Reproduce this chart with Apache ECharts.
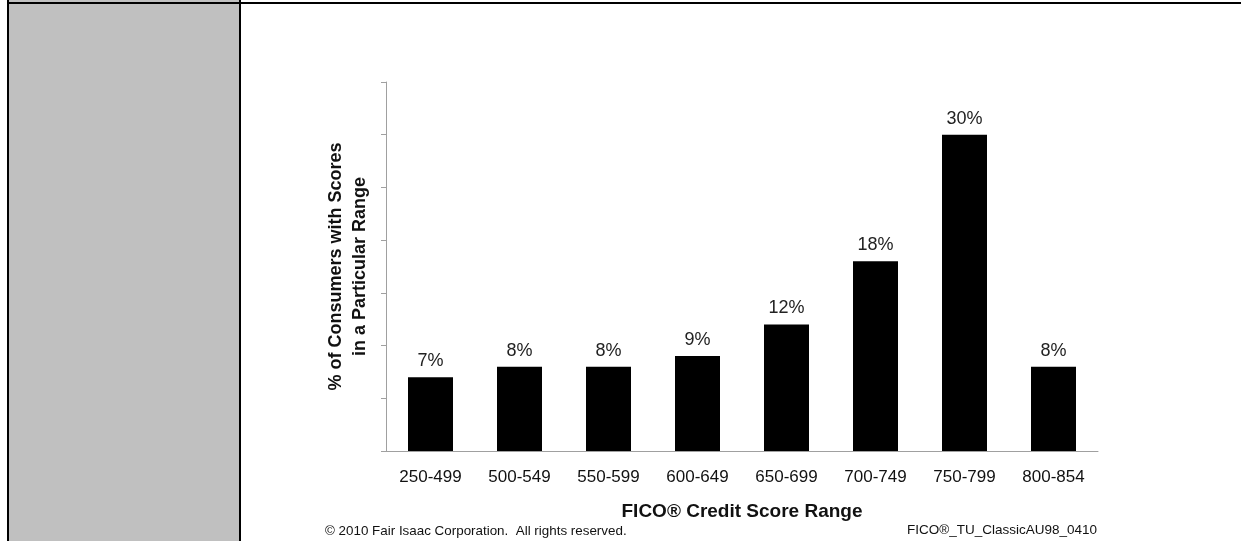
<!DOCTYPE html>
<html>
<head>
<meta charset="utf-8">
<script src="https://cdn.jsdelivr.net/npm/echarts@6/dist/echarts.min.js"></script>
<style>
  html, body { margin: 0; padding: 0; background: #fff; }
  #chart { width: 1241px; height: 541px; }
</style>
</head>
<body>
<div id="chart"></div>
<script>
// score bands and share of consumers (%)
const categories = ['250-499', '500-549', '550-599', '600-649', '650-699', '700-749', '750-799', '800-854'];
const shares = [7, 8, 8, 9, 12, 18, 30, 8];

const FONT = '"Liberation Sans", Arial, sans-serif';

const chart = echarts.init(document.getElementById('chart'));

const option = {
  backgroundColor: '#ffffff',
  animation: false,
  grid: { left: 386, right: 143, top: 82, bottom: 90 },
  graphic: [
    // grey side cell + table borders
    { type: 'rect', z: -10, shape: { x: 8, y: 0, width: 232, height: 541 }, style: { fill: '#c0c0c0' } },
    { type: 'line', shape: { x1: 8, y1: 0, x2: 8, y2: 541 }, style: { stroke: '#000', lineWidth: 2 } },
    { type: 'line', shape: { x1: 240, y1: 0, x2: 240, y2: 541 }, style: { stroke: '#000', lineWidth: 2 } },
    { type: 'line', shape: { x1: 7, y1: 3, x2: 1241, y2: 3 }, style: { stroke: '#000', lineWidth: 2 } },
    // footer
    {
      type: 'text', left: 325, top: 525,
      style: { text: '© 2010 Fair Isaac Corporation.  All rights reserved.', fontFamily: FONT, fontSize: 13.4, fill: '#111' }
    },
    {
      type: 'text', right: 144, top: 523,
      style: { text: 'FICO®_TU_ClassicAU98_0410', fontFamily: FONT, fontSize: 13.5, fill: '#111' }
    }
  ],
  xAxis: {
    type: 'category',
    data: categories,
    name: 'FICO® Credit Score Range',
    nameLocation: 'middle',
    nameGap: 51,
    nameTextStyle: { fontFamily: FONT, fontSize: 19, fontWeight: 'bold', color: '#111' },
    axisLine: { lineStyle: { color: '#a0a0a0', width: 1 } },
    axisTick: { length: 5, lineStyle: { color: '#a0a0a0' } },
    axisLabel: { margin: 18, fontFamily: FONT, fontSize: 17, color: '#111' }
  },
  yAxis: {
    type: 'value',
    min: 0,
    max: 35,
    interval: 5,
    name: '% of Consumers with Scores\nin a Particular Range',
    nameLocation: 'middle',
    nameRotate: 90,
    nameGap: 14,
    nameTextStyle: { fontFamily: FONT, fontSize: 18, fontWeight: 'bold', color: '#111', lineHeight: 24 },
    axisLine: { show: true, lineStyle: { color: '#a0a0a0', width: 1 } },
    axisTick: { show: true, length: 5, lineStyle: { color: '#a0a0a0' } },
    axisLabel: { show: false },
    splitLine: { show: false }
  },
  series: [
    {
      type: 'bar',
      data: shares,
      barWidth: 45,
      itemStyle: { color: '#000' },
      label: {
        show: true,
        position: 'top',
        distance: 7,
        formatter: '{c}%',
        fontFamily: FONT,
        fontSize: 18,
        color: '#222'
      }
    }
  ]
};

chart.setOption(option);
</script>
</body>
</html>
